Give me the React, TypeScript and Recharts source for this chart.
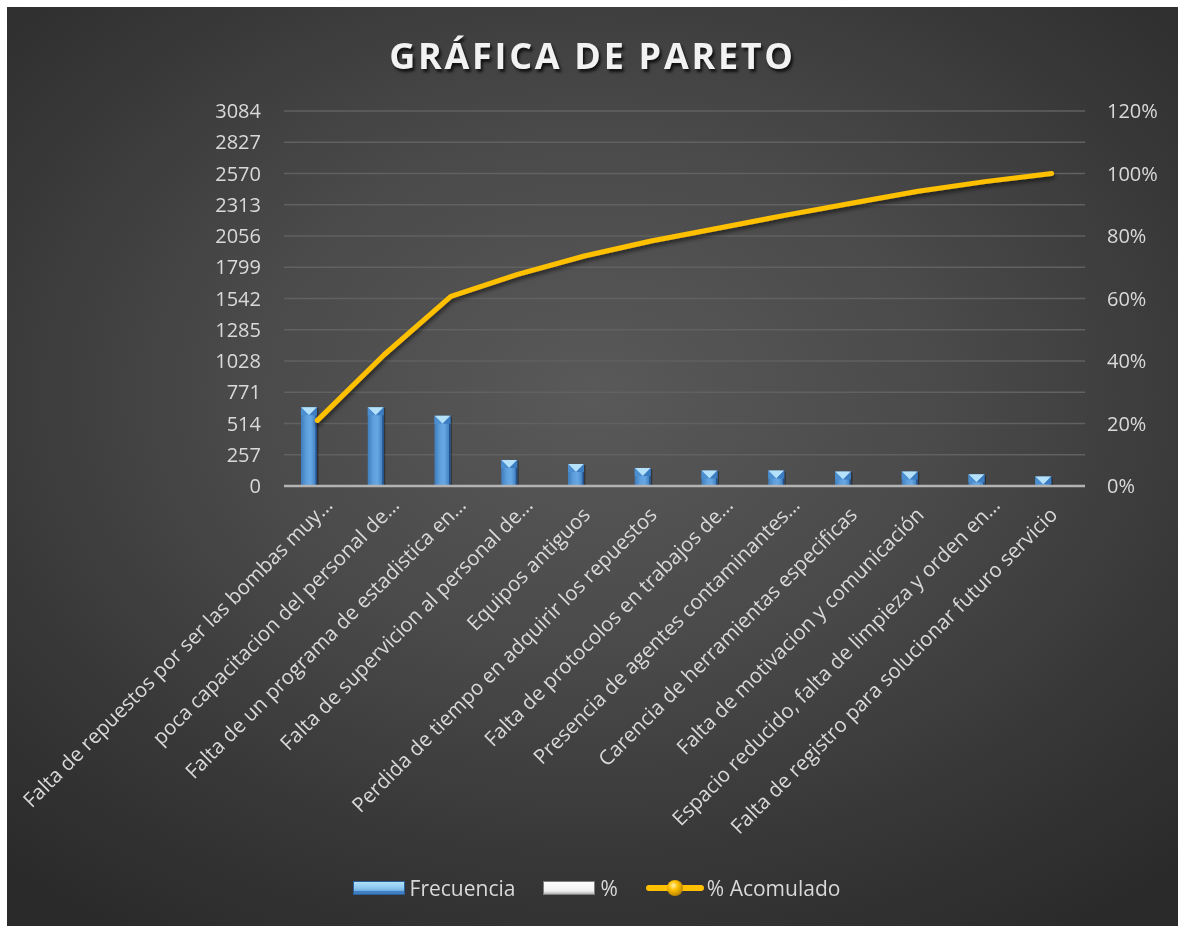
import React from "react";
import {
  ComposedChart,
  Bar,
  Line,
  XAxis,
  YAxis,
  CartesianGrid,
  Legend,
} from "recharts";

const categories = [
  "Falta de repuestos por ser las bombas muy…",
  "poca capacitacion del personal de…",
  "Falta de un programa de estadistica en…",
  "Falta de supervicion al personal de…",
  "Equipos antiguos",
  "Perdida de tiempo en adquirir los repuestos",
  "Falta de protocolos en trabajos de…",
  "Presencia de agentes contaminantes…",
  "Carencia de herramientas especificas",
  "Falta de motivacion y comunicación",
  "Espacio reducido, falta de limpieza y orden en…",
  "Falta de registro para solucionar futuro servicio",
];

const frecuencia = [648, 648, 578, 214, 181, 148, 127, 127, 119, 119, 96, 79];
const porcentaje = [0.21, 0.21, 0.187, 0.069, 0.059, 0.048, 0.041, 0.041, 0.039, 0.039, 0.031, 0.026];
const acumulado = [0.21, 0.42, 0.607, 0.677, 0.736, 0.784, 0.825, 0.866, 0.905, 0.943, 0.974, 1.0];

const leftTicks = [0, 257, 514, 771, 1028, 1285, 1542, 1799, 2056, 2313, 2570, 2827, 3084];
const rightTicks = [0, 0.2, 0.4, 0.6, 0.8, 1.0, 1.2];

const data = categories.map((c, i) => ({
  name: c,
  frecuencia: frecuencia[i],
  pct: porcentaje[i],
  acum: acumulado[i],
}));

const FONT = "'Open Sans', 'DejaVu Sans', sans-serif";
const TEXT = "#d9d9d9";
const W = 1171;
const H = 919;

function FrecBar(props: any) {
  const { x, y, width, height } = props;
  if (!height || height <= 0) return null;
  const tri = Math.min(8, height);
  return (
    <g>
      <rect x={x + 1.5} y={y + 1} width={width} height={height - 1} fill="rgba(0,0,0,0.35)" />
      <rect x={x} y={y} width={width} height={height} fill="url(#barGrad)" />
      <rect x={x + width - 1.5} y={y} width={1.5} height={height} fill="#23508a" />
      <polygon
        points={`${x},${y} ${x + width},${y} ${x + width / 2},${y + tri}`}
        fill="#b5e2fa"
      />
      <polygon
        points={`${x},${y} ${x + width / 2},${y + tri} ${x},${y + tri}`}
        fill="#4c8fd0"
      />
      <polygon
        points={`${x + width},${y} ${x + width / 2},${y + tri} ${x + width},${y + tri}`}
        fill="#3c7cc0"
      />
    </g>
  );
}

function CatTick(props: any) {
  const { x, y, payload } = props;
  const label: string = String(payload.value);
  const truncated = label.endsWith("…");
  const tx = truncated ? x + 16.5 : x + 7;
  const ty = truncated ? y + 20.5 : y + 30;
  return (
    <text
      x={tx}
      y={ty}
      textAnchor="end"
      transform={`rotate(-45, ${tx}, ${ty})`}
      fill={TEXT}
      fontSize={20.5}
      fontFamily={FONT}
    >
      {label}
    </text>
  );
}

function LegendContent() {
  const item: React.CSSProperties = {
    display: "flex",
    alignItems: "center",
    color: TEXT,
    fontSize: 21,
    fontFamily: FONT,
  };
  return (
    <div
      style={{
        height: 30,
        display: "flex",
        justifyContent: "center",
        alignItems: "center",
        gap: 28,
        paddingLeft: 8,
      }}
    >
      <div style={item}>
        <svg width={52} height={16} style={{ marginRight: 5 }}>
          <defs>
            <linearGradient id="lgBlue" x1="0" y1="0" x2="0" y2="1">
              <stop offset="0" stopColor="#b6e4fb" />
              <stop offset="0.5" stopColor="#8cc8f0" />
              <stop offset="1" stopColor="#4a8ad0" />
            </linearGradient>
          </defs>
          <rect x={0} y={1} width={52} height={14} fill="url(#lgBlue)" />
          <rect x={0} y={11} width={52} height={4} fill="#3f7fc2" />
          <rect x={0.5} y={1.5} width={51} height={13} fill="none" stroke="#2a5f9a" />
        </svg>
        <span>Frecuencia</span>
      </div>
      <div style={item}>
        <svg width={52} height={16} style={{ marginRight: 5 }}>
          <defs>
            <linearGradient id="lgWhite" x1="0" y1="0" x2="0" y2="1">
              <stop offset="0" stopColor="#ffffff" />
              <stop offset="0.7" stopColor="#f2f2f2" />
              <stop offset="1" stopColor="#a0a0a0" />
            </linearGradient>
          </defs>
          <rect x={0} y={1} width={52} height={14} fill="url(#lgWhite)" />
          <rect x={0.5} y={1.5} width={51} height={13} fill="none" stroke="#7f7f7f" />
        </svg>
        <span>%</span>
      </div>
      <div style={item}>
        <svg width={58} height={20} style={{ marginRight: 3 }}>
          <defs>
            <radialGradient id="lgBall" cx="0.4" cy="0.35" r="0.7">
              <stop offset="0" stopColor="#fff3b0" />
              <stop offset="0.4" stopColor="#ffc000" />
              <stop offset="1" stopColor="#b07d00" />
            </radialGradient>
          </defs>
          <line x1={3} y1={10} x2={55} y2={10} stroke="#ffc000" strokeWidth={6} strokeLinecap="round" />
          <circle cx={29} cy={10} r={8} fill="url(#lgBall)" />
        </svg>
        <span>% Acomulado</span>
      </div>
    </div>
  );
}

export default function App() {
  return (
    <div
      style={{
        position: "fixed",
        top: 7,
        left: 7,
        width: W,
        height: H,
        fontFamily: FONT,
        background:
          "radial-gradient(ellipse 75% 70% at 50% 42%, #595959 0%, #4a4a4a 40%, #363636 75%, #2a2a2a 100%)",
      }}
    >
      <div
        style={{
          position: "absolute",
          top: 24,
          left: 0,
          width: W,
          textAlign: "center",
          color: "#f2f2f2",
          fontFamily: FONT,
          fontWeight: 700,
          fontSize: 36,
          letterSpacing: 2.7,
          textShadow: "2px 3px 3px rgba(0,0,0,0.75)",
          zIndex: 2,
        }}
      >
        GRÁFICA DE PARETO
      </div>
      <ComposedChart
        width={W}
        height={H}
        data={data}
        margin={{ top: 104, right: 13, bottom: 23, left: 197 }}
        barGap={0}
        barCategoryGap={0}
      >
        <defs>
          <linearGradient id="barGrad" x1="0" y1="0" x2="1" y2="0">
            <stop offset="0" stopColor="#3f7dbd" />
            <stop offset="0.35" stopColor="#5f9fdc" />
            <stop offset="0.6" stopColor="#66a8e4" />
            <stop offset="1" stopColor="#3a77b8" />
          </linearGradient>
          <filter id="lineShadow" x="-5%" y="-10%" width="110%" height="130%">
            <feDropShadow dx="1" dy="3" stdDeviation="2" floodColor="#000" floodOpacity="0.55" />
          </filter>
        </defs>
        <CartesianGrid
          yAxisId="left"
          vertical={false}
          stroke="#616161"
          strokeWidth={1.3}
        />
        <XAxis
          dataKey="name"
          interval={0}
          height={387}
          tick={<CatTick />}
          tickLine={false}
          tickSize={0}
          tickMargin={0}
          axisLine={{ stroke: "#b3b3b3", strokeWidth: 2.5 }}
        />
        <YAxis
          yAxisId="left"
          orientation="left"
          width={80}
          domain={[0, 3084]}
          ticks={leftTicks}
          interval={0}
          axisLine={false}
          tickLine={false}
          tickSize={0}
          tickMargin={23}
          tick={{ fill: TEXT, fontSize: 20, fontFamily: FONT }}
        />
        <YAxis
          yAxisId="right"
          orientation="right"
          width={80}
          domain={[0, 1.2]}
          ticks={rightTicks}
          interval={0}
          axisLine={false}
          tickLine={false}
          tickSize={0}
          tickMargin={22}
          tickFormatter={(v: number) => `${Math.round(v * 100)}%`}
          tick={{ fill: TEXT, fontSize: 20, fontFamily: FONT, textAnchor: "start" }}
        />
        <Bar
          yAxisId="left"
          dataKey="frecuencia"
          name="Frecuencia"
          barSize={16}
          fill="#5b9bd5"
          shape={<FrecBar />}
          isAnimationActive={false}
        />
        <Bar
          yAxisId="left"
          dataKey="pct"
          name="%"
          barSize={16}
          fill="#f2f2f2"
          isAnimationActive={false}
        />
        <Line
          yAxisId="right"
          dataKey="acum"
          name="% Acomulado"
          type="linear"
          stroke="#ffc000"
          strokeWidth={5}
          strokeLinecap="round"
          strokeLinejoin="round"
          dot={false}
          activeDot={false}
          filter="url(#lineShadow)"
          isAnimationActive={false}
        />
        <Legend
          verticalAlign="bottom"
          align="center"
          content={() => <LegendContent />}
          wrapperStyle={{ left: 0, width: W, bottom: 23 }}
        />
      </ComposedChart>
    </div>
  );
}
